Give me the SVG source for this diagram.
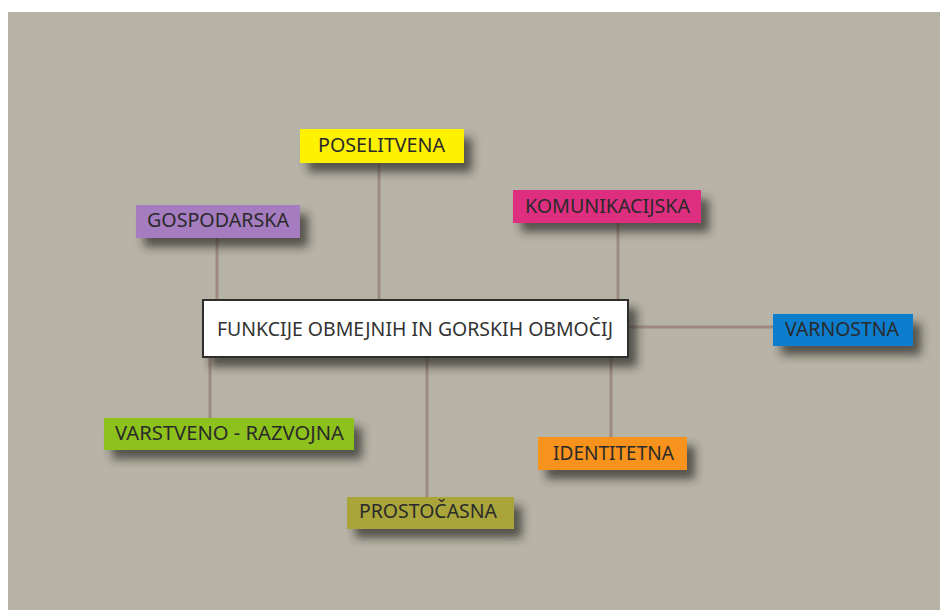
<svg xmlns="http://www.w3.org/2000/svg" width="940" height="610" viewBox="0 0 940 610">
<defs>
<filter id="sh" x="-20%" y="-40%" width="150%" height="220%">
<feDropShadow dx="8" dy="9" stdDeviation="5" flood-color="#2a2620" flood-opacity="0.7"/>
</filter>
<style>
.ln{stroke:#9e8a80;stroke-width:3;fill:none}
.t{font-family:"Noto Sans","Open Sans","Liberation Sans",sans-serif;font-size:20px;fill:#2a2a2a;text-anchor:middle}
.m{fill:#333333}
</style>
</defs>
<rect x="0" y="0" width="940" height="610" fill="#ffffff"/>
<rect x="8" y="12" width="932" height="598" fill="#b7b3a7"/>
<g id="connectors">
<line class="ln" x1="379" y1="163" x2="379" y2="300"/>
<line class="ln" x1="217" y1="238" x2="217" y2="300"/>
<line class="ln" x1="618" y1="223" x2="618" y2="300"/>
<line class="ln" x1="210" y1="357" x2="210" y2="418"/>
<line class="ln" x1="427" y1="357" x2="427" y2="497"/>
<line class="ln" x1="611" y1="357" x2="611" y2="437"/>
<line class="ln" x1="628" y1="327" x2="773" y2="327"/>
</g>
<g id="main">
<rect x="203" y="300" width="425" height="57" fill="#ffffff" stroke="#2e2e2e" stroke-width="2" filter="url(#sh)"/>
<text class="t m" x="415" y="336" textLength="396" lengthAdjust="spacingAndGlyphs">FUNKCIJE OBMEJNIH IN GORSKIH OBMOČIJ</text>
</g>
<g id="poselitvena">
<rect x="300" y="129" width="164" height="34" fill="#fff200" filter="url(#sh)"/>
<text class="t" x="381.5" y="152" textLength="127" lengthAdjust="spacingAndGlyphs">POSELITVENA</text>
</g>
<g id="gospodarska">
<rect x="136" y="205" width="164" height="33" fill="#a57cc0" filter="url(#sh)"/>
<text class="t" x="218" y="227" textLength="142" lengthAdjust="spacingAndGlyphs">GOSPODARSKA</text>
</g>
<g id="komunikacijska">
<rect x="513" y="190" width="188" height="33" fill="#dd2d7f" filter="url(#sh)"/>
<text class="t" x="607.5" y="213" textLength="165" lengthAdjust="spacingAndGlyphs">KOMUNIKACIJSKA</text>
</g>
<g id="varnostna">
<rect x="773" y="314" width="140" height="32" fill="#0b7dcd" filter="url(#sh)"/>
<text class="t" x="842" y="336" textLength="114" lengthAdjust="spacingAndGlyphs">VARNOSTNA</text>
</g>
<g id="varstveno-razvojna">
<rect x="104" y="418" width="250" height="32" fill="#8dc21e" filter="url(#sh)"/>
<text class="t" x="229.5" y="440" textLength="229" lengthAdjust="spacingAndGlyphs">VARSTVENO - RAZVOJNA</text>
</g>
<g id="identitetna">
<rect x="538" y="437" width="149" height="33" fill="#f7931e" filter="url(#sh)"/>
<text class="t" x="613.5" y="460" textLength="121" lengthAdjust="spacingAndGlyphs">IDENTITETNA</text>
</g>
<g id="prostocasna">
<rect x="347" y="497" width="167" height="32" fill="#a9a53a" filter="url(#sh)"/>
<text class="t" x="428" y="518" textLength="138" lengthAdjust="spacingAndGlyphs">PROSTOČASNA</text>
</g>
</svg>
